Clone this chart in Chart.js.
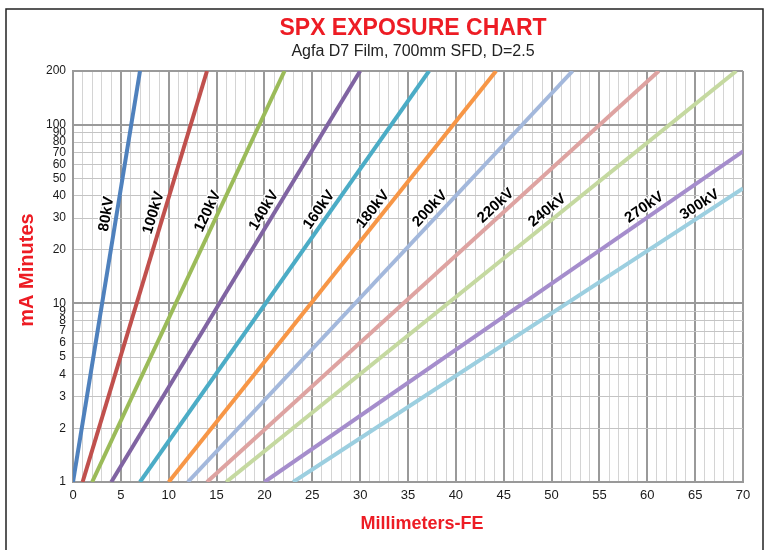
<!DOCTYPE html>
<html>
<head>
<meta charset="utf-8">
<script src="https://cdn.jsdelivr.net/npm/chart.js@4.4.1/dist/chart.umd.min.js"></script>
<style>
  body { margin: 0; background: #fff; }
  canvas { display: block; }
</style>
</head>
<body>
<canvas id="exposureChart" width="767" height="550"></canvas>
<script>
// Exposure lines: start at 1 mA·min, end at the top or right edge
const voltages = ['80kV', '100kV', '120kV', '140kV', '160kV', '180kV', '200kV', '220kV', '240kV', '270kV', '300kV'];
const startMm = [0, 1, 2, 4, 7, 10, 12, 14, 16, 20, 23];
const startMas = [1, 1, 1, 1, 1, 1, 1, 1, 1, 1, 1];
const endMm = [7, 14, 22.1, 30, 37.2, 44.2, 52.2, 61.2, 69.3, 70, 70];
const endMas = [200, 200, 200, 200, 200, 200, 200, 200, 200, 71, 44];
const labelMas = [31, 31, 31, 31, 31, 31, 31, 32, 30, 31, 32];
const lineColors = ['#4f81bd', '#c0504d', '#9bbb59', '#8064a2', '#4bacc6', '#f79646',
                    '#a3b8dc', '#dea3a1', '#c5d9a0', '#a58dcc', '#9ccfe0'];

const yTickValues = [1, 2, 3, 4, 5, 6, 7, 8, 9, 10, 20, 30, 40, 50, 60, 70, 80, 90, 100, 200];
const yMajor = [1, 10, 100, 200];

const RED = '#ed1c24';
const FONT = "'Liberation Sans', Arial, sans-serif";

// frame, titles and the kV labels
const decorPlugin = {
    id: 'decor',
    beforeDraw(chart) {
        const c = chart.ctx;
        c.save();
        c.fillStyle = '#fff';
        c.fillRect(0, 0, chart.width, chart.height);
        c.restore();
    },
    afterDatasetsDraw(chart) {
        const c = chart.ctx;
        const xs = chart.scales.x, ys = chart.scales.y;
        c.save();
        c.font = 'bold 15px ' + FONT;
        c.textAlign = 'center';
        c.textBaseline = 'middle';
        c.lineJoin = 'round';
        chart.data.datasets.forEach((ds, i) => {
            const p0 = ds.data[0], p1 = ds.data[1];
            const x0 = xs.getPixelForValue(p0.x), y0 = ys.getPixelForValue(p0.y);
            const x1 = xs.getPixelForValue(p1.x), y1 = ys.getPixelForValue(p1.y);
            const ly = ys.getPixelForValue(labelMas[i]);
            const t = (ly - y0) / (y1 - y0);
            const lx = x0 + t * (x1 - x0);
            c.save();
            c.translate(lx, ly);
            c.rotate(Math.atan2(y1 - y0, x1 - x0));
            c.strokeStyle = '#fff';
            c.lineWidth = 3;
            c.strokeText(voltages[i], 0, -10);
            c.fillStyle = '#000';
            c.fillText(voltages[i], 0, -10);
            c.restore();
        });
        c.restore();
    },
    afterDraw(chart) {
        const c = chart.ctx;
        c.save();
        c.strokeStyle = '#222';
        c.lineWidth = 1.5;
        c.strokeRect(6, 9, 757, 560);

        c.textAlign = 'center';
        c.textBaseline = 'alphabetic';
        c.fillStyle = RED;
        c.font = 'bold 23px ' + FONT;
        c.fillText('SPX EXPOSURE CHART', 413, 35);
        c.fillStyle = '#222';
        c.font = '16px ' + FONT;
        c.fillText('Agfa D7 Film, 700mm SFD, D=2.5', 413, 56);

        c.fillStyle = RED;
        c.textBaseline = 'middle';
        c.font = 'bold 18px ' + FONT;
        c.fillText('Millimeters-FE', 422, 524);

        c.translate(27, 270);
        c.rotate(-Math.PI / 2);
        c.font = 'bold 20px ' + FONT;
        c.fillText('mA Minutes', 0, 0);
        c.restore();
    }
};

const ctx = document.getElementById('exposureChart').getContext('2d');
const exposureChart = new Chart(ctx, {
    type: 'line',
    data: {
        datasets: voltages.map((v, i) => ({
            label: v,
            data: [{ x: startMm[i], y: startMas[i] }, { x: endMm[i], y: endMas[i] }],
            borderColor: lineColors[i],
            borderWidth: 4,
            pointRadius: 0,
            fill: false,
            tension: 0
        }))
    },
    options: {
        responsive: false,
        animation: false,
        layout: { padding: { top: 71, right: 24, left: 0, bottom: 0 } },
        plugins: {
            legend: { display: false },
            tooltip: { enabled: false }
        },
        scales: {
            x: {
                type: 'linear',
                min: 0,
                max: 70,
                afterFit: s => { s.height = 68; },
                border: { display: true, color: '#999', width: 2 },
                grid: {
                    drawTicks: false,
                    color: c => (c.tick.value % 5 === 0 ? '#9a9a9a' : '#d4d4d4'),
                    lineWidth: c => (c.tick.value % 5 === 0 ? 2 : 1)
                },
                ticks: {
                    stepSize: 1,
                    autoSkip: false,
                    maxRotation: 0,
                    padding: 6,
                    color: '#1a1a1a',
                    font: { family: FONT, size: 13 },
                    callback: v => (v % 5 === 0 ? String(v) : '')
                }
            },
            y: {
                type: 'logarithmic',
                min: 1,
                max: 200,
                afterFit: s => { s.width = 73; },
                afterBuildTicks: s => { s.ticks = yTickValues.map(v => ({ value: v })); },
                border: { display: true, color: '#999', width: 2 },
                grid: {
                    drawTicks: false,
                    color: c => (yMajor.includes(c.tick.value) ? '#9a9a9a' : '#c4c4c4'),
                    lineWidth: c => (yMajor.includes(c.tick.value) ? 2 : 1)
                },
                ticks: {
                    autoSkip: false,
                    padding: 7,
                    color: '#1a1a1a',
                    font: { family: FONT, size: 12 },
                    callback: v => String(v)
                }
            }
        }
    },
    plugins: [decorPlugin]
});
</script>
</body>
</html>
